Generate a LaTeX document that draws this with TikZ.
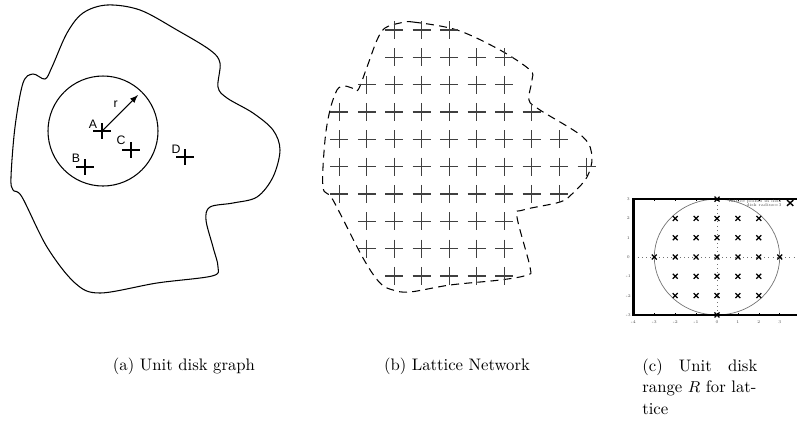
\documentclass[tikz,border=0pt]{standalone}
\usepackage{fontspec}
\newfontfamily\helv{Liberation Sans}
\tikzset{
  plusmark/.pic={\draw[line width=0.6pt] (-9,0) -- (9,0) (0,-8) -- (0,8);},
  gridmark/.pic={\draw[line width=0.6pt,black!75] (-9,0) -- (9,0) (0,-9) -- (0,9);},
  xmark/.pic={\draw[line width=0.7pt] (-1.4pt,-1.4pt) -- (1.4pt,1.4pt) (-1.4pt,1.4pt) -- (1.4pt,-1.4pt);},
  ptlabel/.style={font=\helv\fontsize{7}{8}\selectfont,inner sep=0pt},
  tinylabel/.style={font=\fontsize{2.4}{3}\selectfont,inner sep=0pt,black!70},
  capt/.style={font=\fontsize{9.5}{12}\selectfont,inner sep=0pt}
}
\begin{document}
\begin{tikzpicture}[x=0.02cm,y=-0.02cm]
\useasboundingbox (0,0) rectangle (797,434);

% (a) unit disk graph
\draw[line width=0.6pt] plot[smooth cycle,tension=0.55] coordinates {
  (33,74) (45,79) (52,67) (67,33) (83,13) (107,5) (140,10) (177,30)
  (210,50) (220,63) (218,87) (227,98) (253,113) (273,130) (280,150)
  (273,177) (257,197) (233,203) (210,207) (206,220) (213,247) (218,267)
  (212,276) (157,283) (100,293) (75,283) (47,247) (22,197) (13,190)
  (11,177) (15,127) (23,83)};
\draw[line width=0.6pt] (103,131) circle (55);
\coordinate (A) at (102,131);
\coordinate (B) at (85,167);
\coordinate (C) at (131,150);
\coordinate (D) at (185,157);
\coordinate (rtip) at (138,95);
\foreach \p in {A,B,C,D} \pic at (\p) {plusmark};
\node[ptlabel] (la) at (93,124) {A};
\node[ptlabel] (lb) at (76,158) {B};
\node[ptlabel] (lc) at (121,140) {C};
\node[ptlabel] (ld) at (176,149) {D};
\draw[-latex,line width=0.6pt] (A) -- (rtip) node[ptlabel,pos=0.55,above left=2pt] (lr) {r};

% (b) lattice network
\draw[line width=0.6pt,dash pattern=on 4.5pt off 3pt] plot[smooth cycle,tension=0.55] coordinates {
  (400,23) (413,22) (457,30) (500,50) (530,70) (532,80) (529,100) (540,110)
  (583,137) (592,157) (587,177) (573,193) (560,202) (523,210) (517,217)
  (530,267) (527,275) (500,280) (450,285) (410,292) (393,290) (380,283)
  (363,258) (333,200) (323,187) (325,140) (330,110) (337,90) (344,86)
  (352,88) (358,90) (367,67) (377,40) (385,28)};
\foreach \row/\first/\last in {0/2/4,1/2/6,2/1/6,3/0/7,4/0/8,5/0/9,6/0/8,7/1/6,8/1/6,9/2/6}
  \foreach \col in {\first,...,\last}
    \pic at ({339.3+27.47*\col},{30+27.33*\row}) {gridmark};

% (c) disk range for lattice
\begin{scope}[shift={(717,257)},x=0.418cm,y=0.386cm]
  \draw[black!55,line width=0.4pt] (0,0) ellipse (3 and 3);
  \draw[black!55,dotted,line width=0.4pt] (-4,0) -- (3.85,0) (0,-3) -- (0,3);
  \draw[line width=1.3pt] (3.85,-3) -- (-4,-3) -- (-4,3) -- (3.85,3);
  \foreach \t in {-3,...,3} {
    \draw[line width=0.3pt] (-4,\t) -- ++(0.08,0);
    \node[tinylabel] (ytick\t) at (-4.25,\t) {\t};
  }
  \foreach \t in {-4,...,3} {
    \draw[line width=0.3pt] (\t,-3) -- ++(0,0.08) (\t,3) -- ++(0,-0.08);
    \node[tinylabel] (xtick\t) at (\t,-3.35) {\t};
  }
  \foreach \i in {-2,...,2}
    \foreach \j in {-2,...,2}
      \pic at (\i,\j) {xmark};
  \foreach \p in {(-3,0),(3,0),(0,3),(0,-3)} \pic at \p {xmark};
  \node[tinylabel,anchor=east] (leg1) at (3.1,2.9) {lattice points in disk};
  \node[tinylabel,anchor=east] (leg2) at (3.1,2.68) {disk radius=3};
  \draw[line width=0.8pt] (3.35,2.65) -- (3.65,2.95) (3.35,2.95) -- (3.65,2.65);
\end{scope}

% captions
\node[capt] (capa) at (184,366) {(a) Unit disk graph};
\node[capt] (capb) at (457,366) {(b) Lattice Network};
\node[capt,anchor=north west,text width=2.3cm,align=left] (capc) at (642,359)
  {(c)\hfill Unit\hfill disk\\ range $R$ for lat-\\ tice};
\end{tikzpicture}
\end{document}
